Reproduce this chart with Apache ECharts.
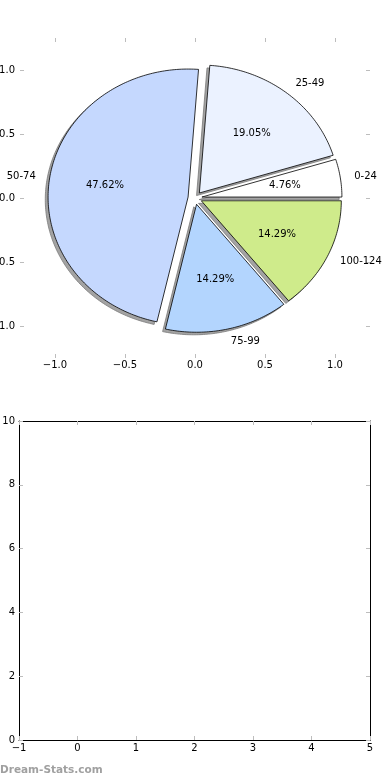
<!DOCTYPE html>
<html>
<head>
<meta charset="utf-8">
<script src="https://cdn.jsdelivr.net/npm/echarts@6/dist/echarts.min.js"></script>
<style>
html,body{margin:0;padding:0;background:#fff;}
#c{width:390px;height:780px;}
</style>
</head>
<body>
<div id="c"></div>
<script>
// ---- data ----
const categories = ['0-24', '25-49', '50-74', '75-99', '100-124'];
const values = [1, 4, 10, 3, 3];
const explode = [0.05, 0.05, 0.05, 0.05, 0.05];
const sliceColors = ['#ffffff', '#ebf2ff', '#c5d8fe', '#b3d5fe', '#cfeb8b'];
const pieTicks = [-1, -0.5, 0, 0.5, 1];
const bottomXTicks = [-1, 0, 1, 2, 3, 4, 5];
const bottomYTicks = [0, 2, 4, 6, 8, 10];
const watermark = 'Dream-Stats.com';

// ---- helpers ----
const FONT = 'DejaVu Sans';
const total = values.reduce((a, b) => a + b, 0);
const starts = [];
{ let acc = 0; values.forEach(v => { starts.push(acc); acc += v; }); }
function fmtNum(v, d) {
  const s = Math.abs(v).toFixed(d);
  return (v < 0 ? '\u2212' : '') + s;
}
function wedgeGeom(i, ox, oy) {
  const a1 = starts[i] / total * 2 * Math.PI;
  const a2 = (starts[i] + values[i]) / total * 2 * Math.PI;
  const am = (a1 + a2) / 2;
  const cx = explode[i] * Math.cos(am) + ox;
  const cy = explode[i] * Math.sin(am) + oy;
  return { a1, a2, am, cx, cy };
}
function wedgePoints(api, g) {
  const pts = [api.coord([g.cx, g.cy])];
  const n = Math.max(4, Math.ceil((g.a2 - g.a1) / (Math.PI / 180)));
  for (let k = 0; k <= n; k++) {
    const a = g.a1 + (g.a2 - g.a1) * k / n;
    pts.push(api.coord([g.cx + Math.cos(a), g.cy + Math.sin(a)]));
  }
  return pts;
}
const sliceData = values.map((v, i) => [0, 0, i]);

const tickStyle = { color: '#bdbdbd', width: 1 };
const labelStyle = { color: '#000', fontSize: 10, fontFamily: FONT };
const hiddenLine = { show: false, onZero: false };
const frameLine = { show: true, onZero: false, lineStyle: { color: '#000', width: 1 } };

const option = {
  animation: false,
  backgroundColor: '#fff',
  grid: [
    { left: 20, top: 38, width: 350, height: 320, show: false, containLabel: false, outerBoundsMode: 'none' },
    { left: 19, top: 421, width: 351, height: 319, show: false, containLabel: false, outerBoundsMode: 'none' }
  ],
  xAxis: [
    { gridIndex: 0, type: 'value', min: -1.25, max: 1.25, position: 'bottom',
      axisLine: hiddenLine, splitLine: { show: false },
      axisTick: { show: true, inside: true, length: 4, lineStyle: tickStyle, customValues: pieTicks },
      axisLabel: Object.assign({ margin: 2, customValues: pieTicks, formatter: v => fmtNum(v, 1) }, labelStyle) },
    { gridIndex: 0, type: 'value', min: -1.25, max: 1.25, position: 'top',
      axisLine: hiddenLine, splitLine: { show: false },
      axisTick: { show: true, inside: true, length: 4, lineStyle: tickStyle, customValues: pieTicks },
      axisLabel: { show: false } },
    { gridIndex: 1, type: 'value', min: -1, max: 5, interval: 1, position: 'bottom',
      axisLine: frameLine, splitLine: { show: false },
      axisTick: { show: true, inside: true, length: 4, lineStyle: tickStyle },
      axisLabel: Object.assign({ margin: 3, formatter: v => fmtNum(v, 0) }, labelStyle) },
    { gridIndex: 1, type: 'value', min: -1, max: 5, interval: 1, position: 'top',
      axisLine: frameLine, splitLine: { show: false },
      axisTick: { show: true, inside: true, length: 4, lineStyle: tickStyle },
      axisLabel: { show: false } }
  ],
  yAxis: [
    { gridIndex: 0, type: 'value', min: -1.25, max: 1.25, position: 'left',
      axisLine: hiddenLine, splitLine: { show: false },
      axisTick: { show: true, inside: true, length: 4, lineStyle: tickStyle, customValues: pieTicks },
      axisLabel: Object.assign({ margin: 5, customValues: pieTicks, formatter: v => fmtNum(v, 1) }, labelStyle) },
    { gridIndex: 0, type: 'value', min: -1.25, max: 1.25, position: 'right',
      axisLine: hiddenLine, splitLine: { show: false },
      axisTick: { show: true, inside: true, length: 4, lineStyle: tickStyle, customValues: pieTicks },
      axisLabel: { show: false } },
    { gridIndex: 1, type: 'value', min: 0, max: 10, interval: 2, position: 'left',
      axisLine: frameLine, splitLine: { show: false },
      axisTick: { show: true, inside: true, length: 4, lineStyle: tickStyle },
      axisLabel: Object.assign({ margin: 4, formatter: v => fmtNum(v, 0) }, labelStyle) },
    { gridIndex: 1, type: 'value', min: 0, max: 10, interval: 2, position: 'right',
      axisLine: frameLine, splitLine: { show: false },
      axisTick: { show: true, inside: true, length: 4, lineStyle: tickStyle },
      axisLabel: { show: false } }
  ],
  graphic: [
    { type: 'text', left: 0, top: 765,
      style: { text: watermark, fill: '#a0a0a0', fontSize: 10.5, fontWeight: 'bold', fontFamily: FONT } }
  ],
  series: [
    { type: 'custom', name: 'shadow', xAxisIndex: 0, yAxisIndex: 0, clip: false, z: 1,
      data: sliceData,
      renderItem: function (params, api) {
        const i = api.value(2);
        const g = wedgeGeom(i, -0.02, -0.02);
        return { type: 'polygon', shape: { points: wedgePoints(api, g) },
          style: { fill: '#a3a3a3', stroke: '#7a7a7a', lineWidth: 0.8 } };
      } },
    { type: 'custom', name: 'wedges', xAxisIndex: 0, yAxisIndex: 0, clip: false, z: 2,
      data: sliceData,
      renderItem: function (params, api) {
        const i = api.value(2);
        const g = wedgeGeom(i, 0, 0);
        return { type: 'polygon', shape: { points: wedgePoints(api, g) },
          style: { fill: sliceColors[i], stroke: '#000', lineWidth: 0.8 } };
      } },
    { type: 'custom', name: 'labels', xAxisIndex: 0, yAxisIndex: 0, clip: false, z: 3,
      data: sliceData,
      renderItem: function (params, api) {
        const i = api.value(2);
        const g = wedgeGeom(i, 0, 0);
        const lx = g.cx + 1.1 * Math.cos(g.am), ly = g.cy + 1.1 * Math.sin(g.am);
        const px = g.cx + 0.6 * Math.cos(g.am), py = g.cy + 0.6 * Math.sin(g.am);
        const lp = api.coord([lx, ly]);
        const pp = api.coord([px, py]);
        const pct = (values[i] / total * 100).toFixed(2) + '%';
        return { type: 'group', children: [
          { type: 'text', x: lp[0], y: lp[1],
            style: { text: categories[i], fill: '#000', fontSize: 10, fontFamily: FONT,
              align: lx > 0 ? 'left' : 'right', verticalAlign: 'middle' } },
          { type: 'text', x: pp[0], y: pp[1],
            style: { text: pct, fill: '#000', fontSize: 10, fontFamily: FONT,
              align: 'center', verticalAlign: 'middle' } }
        ] };
      } }
  ]
};

const chart = echarts.init(document.getElementById('c'), null, { renderer: 'canvas' });
chart.setOption(option);
</script>
</body>
</html>
